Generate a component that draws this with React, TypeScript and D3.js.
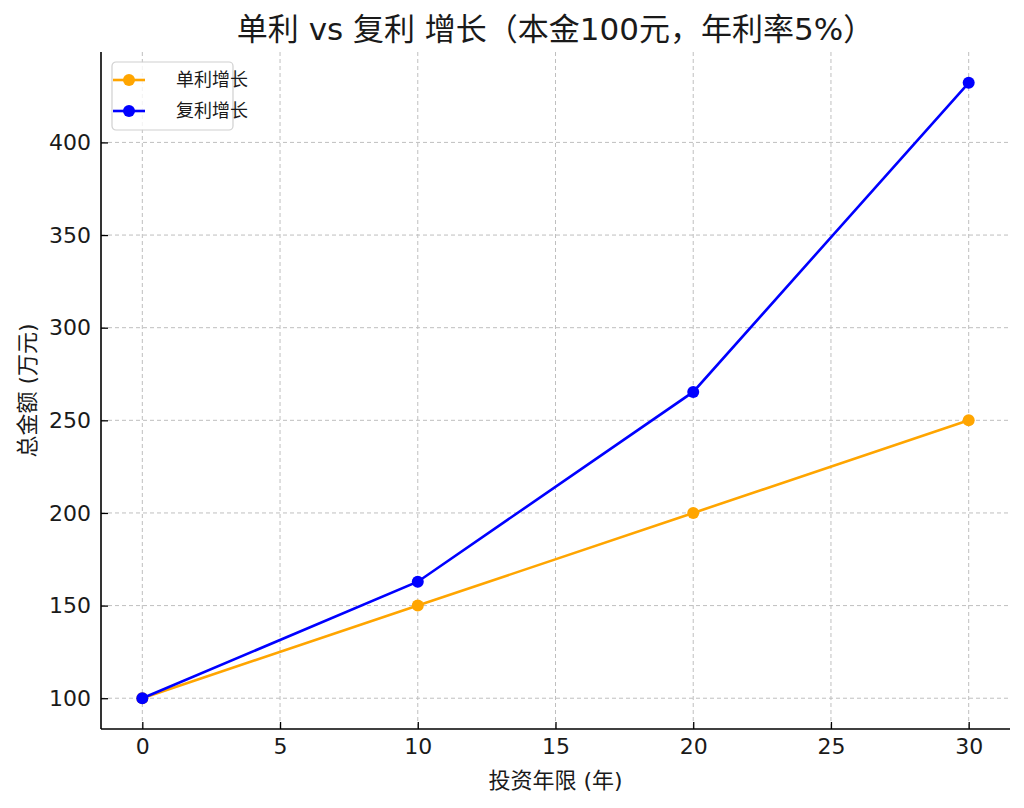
import React, { useEffect, useRef } from 'react';
import * as d3 from 'd3';

const years = [0, 10, 20, 30];
const simpleValues = [100, 150, 200, 250];
const compoundValues = [100, 162.89, 265.33, 432.19];
const xTicks = [0, 5, 10, 15, 20, 25, 30];
const yTicks = [100, 150, 200, 250, 300, 350, 400];
const seriesNames = ['单利增长', '复利增长'];
const seriesColors = ['#ffa500', '#0000ff'];

const FONT = '"DejaVu Sans", "Noto Sans CJK SC", sans-serif';

const App: React.FC = () => {
    const svgRef = useRef<SVGSVGElement | null>(null);

    useEffect(() => {
        if (!svgRef.current) return;
        const svg = d3.select(svgRef.current);
        svg.selectAll('*').remove();

        const width = 1024;
        const height = 808;
        const margin = { top: 52, right: 14, bottom: 79, left: 101 };

        const x = d3.scaleLinear().domain([-1.5, 31.5]).range([margin.left, width - margin.right]);
        const y = d3.scaleLinear().domain([83.39, 448.8]).range([height - margin.bottom, margin.top]);

        svg.append('rect').attr('width', width).attr('height', height).attr('fill', '#fff');

        // grid
        const grid = svg.append('g').attr('stroke', '#b0b0b0').attr('stroke-width', 1).attr('stroke-dasharray', '4,3').attr('opacity', 0.8);
        xTicks.forEach((t) => {
            grid.append('line').attr('x1', x(t)).attr('x2', x(t)).attr('y1', margin.top).attr('y2', height - margin.bottom);
        });
        yTicks.forEach((t) => {
            grid.append('line').attr('x1', margin.left).attr('x2', width - margin.right).attr('y1', y(t)).attr('y2', y(t));
        });

        // axes, ticks pointing inward
        const xAxis = d3.axisBottom(x).tickValues(xTicks).tickSize(-7).tickPadding(9).tickFormat(d3.format('d'));
        const yAxis = d3.axisLeft(y).tickValues(yTicks).tickSize(-7).tickPadding(10).tickFormat(d3.format('d'));

        const gx = svg.append('g').attr('transform', `translate(0,${height - margin.bottom})`).call(xAxis);
        const gy = svg.append('g').attr('transform', `translate(${margin.left},0)`).call(yAxis);
        [gx, gy].forEach((g) => {
            g.select('.domain').attr('stroke', '#000').attr('stroke-width', 1.6);
            g.selectAll('.tick line').attr('stroke', '#000').attr('stroke-width', 1.3);
            g.selectAll('.tick text').attr('font-family', FONT).attr('font-size', 22).attr('fill', '#1a1a1a');
        });
        gx.select('.domain').attr('d', `M${margin.left},0H${width - margin.right}`);
        gy.select('.domain').attr('d', `M0,${margin.top}V${height - margin.bottom}`);

        // lines
        const series = [simpleValues, compoundValues];
        series.forEach((vals, i) => {
            const pts = years.map((yr, j) => [yr, vals[j]] as [number, number]);
            const line = d3.line<[number, number]>().x((d) => x(d[0])).y((d) => y(d[1]));
            svg.append('path').datum(pts).attr('fill', 'none').attr('stroke', seriesColors[i]).attr('stroke-width', 2.6).attr('d', line);
            svg.selectAll(null).data(pts).enter().append('circle')
                .attr('cx', (d) => x(d[0])).attr('cy', (d) => y(d[1])).attr('r', 6).attr('fill', seriesColors[i]);
        });

        // title
        svg.append('text').attr('x', (margin.left + width - margin.right) / 2).attr('y', 40)
            .attr('text-anchor', 'middle').attr('font-family', FONT).attr('font-size', 31).attr('fill', '#1a1a1a')
            .text('单利 vs 复利 增长（本金100元，年利率5%）');

        // axis labels
        svg.append('text').attr('x', (margin.left + width - margin.right) / 2).attr('y', 788)
            .attr('text-anchor', 'middle').attr('font-family', FONT).attr('font-size', 22).attr('fill', '#1a1a1a')
            .text('投资年限 (年)');
        svg.append('text').attr('transform', `translate(35,${(margin.top + height - margin.bottom) / 2}) rotate(-90)`)
            .attr('text-anchor', 'middle').attr('font-family', FONT).attr('font-size', 22).attr('fill', '#1a1a1a')
            .text('总金额 (万元)');

        // legend
        const lg = svg.append('g').attr('transform', 'translate(112,62)');
        lg.append('rect').attr('width', 121).attr('height', 68).attr('rx', 4)
            .attr('fill', '#fff').attr('fill-opacity', 0.8).attr('stroke', '#d0d0d0').attr('stroke-width', 1.2);
        seriesNames.forEach((name, i) => {
            const cy = 18 + i * 31;
            lg.append('line').attr('x1', 1).attr('x2', 33).attr('y1', cy).attr('y2', cy)
                .attr('stroke', seriesColors[i]).attr('stroke-width', 2.6);
            lg.append('circle').attr('cx', 17).attr('cy', cy).attr('r', 6).attr('fill', seriesColors[i]);
            lg.append('text').attr('x', 64).attr('y', cy + 6).attr('font-family', FONT).attr('font-size', 18)
                .attr('fill', '#1a1a1a').text(name);
        });
    }, []);

    return <svg ref={svgRef} width={1024} height={808} style={{ display: 'block', margin: -8 }} />;
};

export default App;
